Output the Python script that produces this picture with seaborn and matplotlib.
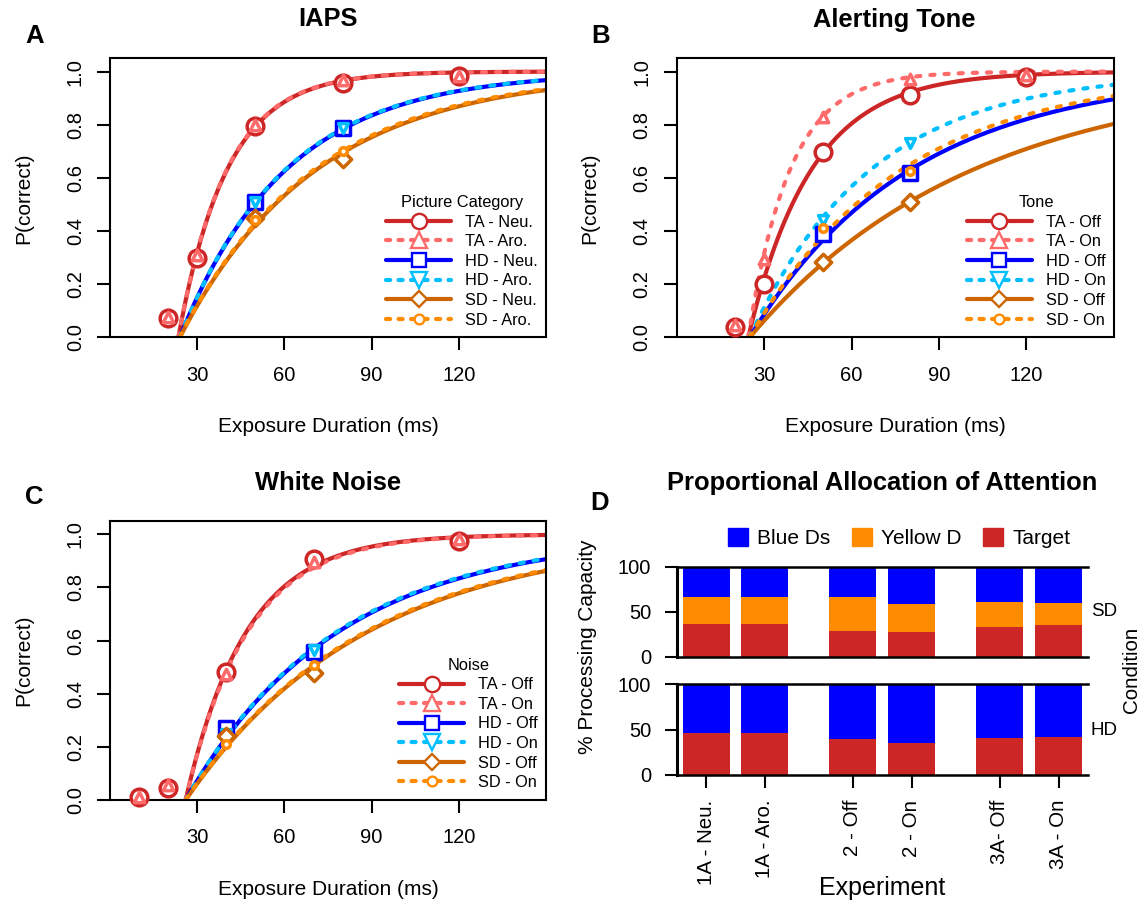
import numpy as np
import matplotlib.pyplot as plt
import matplotlib.ticker as mticker
from matplotlib.lines import Line2D
from matplotlib.patches import Patch
import seaborn as sns

sns.set_style("ticks")
plt.rcParams["font.family"] = ["Liberation Sans", "DejaVu Sans"]
plt.rcParams.update({"text.color": "black", "axes.labelcolor": "black",
                     "xtick.color": "black", "ytick.color": "black",
                     "axes.edgecolor": "black"})

W, H = 1139, 905

# ---------------- data ----------------
# Panel A: IAPS
iaps_labels = ["TA - Neu.", "TA - Aro.", "HD - Neu.", "HD - Aro.", "SD - Neu.", "SD - Aro."]
iaps_ta_ms = [20, 30, 50, 80, 120]
iaps_d_ms = [50, 80]
iaps_p = [
    [0.072, 0.30, 0.797, 0.956, 0.985],
    [0.078, 0.31, 0.800, 0.969, 0.984],
    [0.508, 0.787],
    [0.510, 0.787],
    [0.448, 0.670],
    [0.440, 0.703],
]
# fitted exponential curves: threshold t0 (ms) and rate v (1/ms)
iaps_t0 = [23.5, 23.5, 24.0, 24.0, 24.0, 24.0]
iaps_rate = [0.0595, 0.0600, 0.0273, 0.0275, 0.0212, 0.0216]

# Panel B: Alerting tone
tone_labels = ["TA - Off", "TA - On", "HD - Off", "HD - On", "SD - Off", "SD - On"]
tone_ta_ms = [20, 30, 50, 80, 120]
tone_d_ms = [50, 80]
tone_p = [
    [0.040, 0.200, 0.699, 0.912, 0.979],
    [0.046, 0.294, 0.830, 0.971, 0.987],
    [0.390, 0.617],
    [0.440, 0.733],
    [0.285, 0.511],
    [0.413, 0.624],
]
tone_t0 = [24.5, 24.5, 25.0, 25.0, 25.0, 25.0]
tone_rate = [0.0460, 0.0695, 0.0181, 0.0240, 0.0130, 0.0191]

# Panel C: White noise
noise_labels = ["TA - Off", "TA - On", "HD - Off", "HD - On", "SD - Off", "SD - On"]
noise_ta_ms = [10, 20, 40, 70, 120]
noise_d_ms = [40, 70]
noise_p = [
    [0.0125, 0.046, 0.483, 0.906, 0.976],
    [0.012, 0.056, 0.474, 0.897, 0.981],
    [0.270, 0.558],
    [0.250, 0.565],
    [0.241, 0.479],
    [0.211, 0.508],
]
noise_t0 = [26.0, 26.0, 26.0, 26.0, 26.0, 26.0]
noise_rate = [0.0480, 0.0470, 0.0191, 0.0193, 0.0160, 0.0162]

# Panel D: proportional allocation (% processing capacity)
experiments = ["1A - Neu.", "1A - Aro.", "2 - Off", "2 - On", "3A- Off", "3A - On"]
sd_target = [36.3, 36.3, 28.6, 27.4, 33.0, 35.2]
sd_yellow = [30.0, 30.0, 37.7, 31.2, 27.8, 24.5]
sd_blue = [33.7, 33.7, 33.7, 41.4, 39.2, 40.3]
hd_target = [46.0, 46.0, 39.4, 35.0, 40.5, 41.6]
hd_blue = [54.0, 54.0, 60.6, 65.0, 59.5, 58.4]

# ---------------- styles ----------------
line_colors = ["#CD2626", "#FF6A6A", "#0000FF", "#00BFFF", "#CD6600", "#FF8C00"]
dashed = [False, True, False, True, False, True]
markers = ["o", "^", "s", "v", "D", "o"]
data_ms = [12.0, 7.5, 10.5, 7.0, 8.3, 5.5]
leg_ms = [11.0, 11.0, 10.0, 11.0, 8.0, 7.0]
bar_pos = [0, 1, 2.5, 3.5, 5, 6]
bar_blue, bar_orange, bar_red = "#0000FF", "#FF8C00", "#CD2626"


def rect(l, t, r, b):
    return [l / W, 1 - b / H, (r - l) / W, (b - t) / H]


def curve_panel(ax, ta_ms, d_ms, p, t0, rate, labels, title):
    for i in range(6):
        xs = np.linspace(t0[i], 150, 300)
        ys = 1 - np.exp(-rate[i] * (xs - t0[i]))
        sns.lineplot(x=xs, y=ys, ax=ax, color=line_colors[i], lw=3)
        ln = ax.lines[-1]
        ln.set_solid_capstyle("round")
        if dashed[i]:
            ln.set_dashes((1.0, 2.4))
            ln.set_dash_capstyle("round")
    for i in range(6):
        xs = ta_ms if i < 2 else d_ms
        sns.scatterplot(x=xs, y=p[i], ax=ax, marker=markers[i], s=data_ms[i] ** 2,
                        color="white", edgecolor=line_colors[i], linewidth=2.5,
                        zorder=4, clip_on=False)
    ax.set_xlim(0, 150)
    ax.set_ylim(0, 1.05)
    ax.set_xticks([30, 60, 90, 120])
    ax.set_yticks([0, 0.2, 0.4, 0.6, 0.8, 1.0])
    ax.yaxis.set_major_formatter(mticker.FormatStrFormatter("%.1f"))
    ax.tick_params(length=9.5, width=1.5, labelsize=14.5, direction="out")
    ax.tick_params(axis="x", pad=11)
    ax.tick_params(axis="y", pad=8.7, labelrotation=90)
    plt.setp(ax.get_yticklabels(), va="center")
    for sp in ax.spines.values():
        sp.set_linewidth(1.5)
    ax.set_xlabel("Exposure Duration (ms)", fontsize=15)
    ax.xaxis.set_label_coords(0.5, -0.286)
    ax.set_ylabel("P(correct)", fontsize=15)
    ax.yaxis.set_label_coords(-0.177, 0.5)
    handles = []
    for i in range(6):
        h = Line2D([], [], color=line_colors[i], lw=3, marker=markers[i],
                   markersize=leg_ms[i], markerfacecolor="white",
                   markeredgecolor=line_colors[i], markeredgewidth=1.7,
                   solid_capstyle="round")
        if dashed[i]:
            h.set_dashes((1.0, 2.0))
            h.set_dash_capstyle("round")
        handles.append(h)
    ax.legend(handles, labels, title=title, loc="lower right",
              bbox_to_anchor=(0.982, 0.035), frameon=False, fontsize=11.8,
              title_fontsize=11.8, handlelength=4.0, handletextpad=0.85,
              labelspacing=0.28, borderpad=0, borderaxespad=0)


fig = plt.figure(figsize=(W / 100, H / 100), dpi=100)

ax_a = fig.add_axes(rect(110.1, 58.3, 546.0, 337.3))
curve_panel(ax_a, iaps_ta_ms, iaps_d_ms, iaps_p, iaps_t0, iaps_rate, iaps_labels, "Picture Category")
ax_b = fig.add_axes(rect(676.9, 58.3, 1113.8, 337.3))
curve_panel(ax_b, tone_ta_ms, tone_d_ms, tone_p, tone_t0, tone_rate, tone_labels, "Tone")
ax_c = fig.add_axes(rect(110.1, 521.0, 546.0, 800.0))
curve_panel(ax_c, noise_ta_ms, noise_d_ms, noise_p, noise_t0, noise_rate, noise_labels, "Noise")

# ---------------- panel D ----------------
ax_sd = fig.add_axes(rect(676.7, 566.7, 1087.9, 656.7))
ax_hd = fig.add_axes(rect(676.7, 684.3, 1087.9, 774.7))

sd_orange_top = [t + y for t, y in zip(sd_target, sd_yellow)]
sd_total = [t + y + b for t, y, b in zip(sd_target, sd_yellow, sd_blue)]
hd_total = [t + b for t, b in zip(hd_target, hd_blue)]

for vals, col in [(sd_total, bar_blue), (sd_orange_top, bar_orange), (sd_target, bar_red)]:
    sns.barplot(x=bar_pos, y=vals, native_scale=True, color=col, saturation=1,
                width=0.8, errorbar=None, linewidth=0, ax=ax_sd)
for vals, col in [(hd_total, bar_blue), (hd_target, bar_red)]:
    sns.barplot(x=bar_pos, y=vals, native_scale=True, color=col, saturation=1,
                width=0.8, errorbar=None, linewidth=0, ax=ax_hd)

for ax in (ax_sd, ax_hd):
    ax.set_xlim(-0.5, 6.5)
    ax.set_ylim(0, 100)
    ax.set_yticks([0, 50, 100])
    ax.spines["right"].set_visible(False)
    for s in ("top", "bottom"):
        ax.spines[s].set_linewidth(1.8)
    ax.spines["left"].set_linewidth(2.2)
    ax.tick_params(axis="y", length=9, width=1.5, labelsize=14.5, pad=9.5)
    ax.set_xlabel("")
    ax.set_ylabel("")
ax_sd.set_xticks([])
ax_hd.set_xticks(bar_pos)
ax_hd.set_xticklabels(experiments, rotation=90, va="top", ha="center")
ax_hd.tick_params(axis="x", length=9, width=1.5, labelsize=14.8, pad=9)

fig.legend(handles=[Patch(color=bar_blue), Patch(color=bar_orange), Patch(color=bar_red)],
           labels=["Blue Ds", "Yellow D", "Target"], loc="center",
           bbox_to_anchor=(899.3 / W, 1 - 538.3 / H), ncol=3, frameon=False,
           fontsize=15, handlelength=0.96, handleheight=0.96, handletextpad=0.42,
           columnspacing=1.05, borderpad=0)

fig.text(1091 / W, 1 - 612 / H, "SD", fontsize=13.5, ha="left", va="center")
fig.text(1091 / W, 1 - 730 / H, "HD", fontsize=13.5, ha="left", va="center")
fig.text(1131 / W, 1 - 670 / H, "Condition", fontsize=14.8, rotation=90, ha="center", va="center")
fig.text(588 / W, 1 - 647 / H, "% Processing Capacity", fontsize=15, rotation=90, ha="center", va="center")
fig.text(882.5 / W, 1 - 888 / H, "Experiment", fontsize=18, ha="center", va="center")

# titles and panel letters
for x, y, s in [(328, 19, "IAPS"), (894.6, 20, "Alerting Tone"), (328, 483, "White Noise"),
                (881.8, 483, "Proportional Allocation of Attention")]:
    fig.text(x / W, 1 - y / H, s, fontsize=18.4, fontweight="bold", ha="center", va="center")
for x, y, s in [(34.6, 36, "A"), (601, 36, "B"), (34.6, 497, "C"), (600, 503, "D")]:
    fig.text(x / W, 1 - y / H, s, fontsize=18.5, fontweight="bold", ha="center", va="center")

fig.savefig("out.png", dpi=100)
